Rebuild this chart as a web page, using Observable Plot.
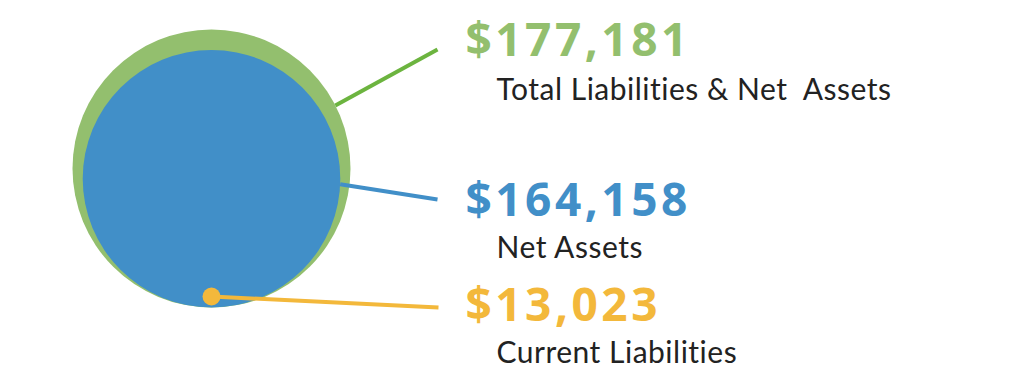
<!DOCTYPE html>
<html>
<head>
<meta charset="utf-8">
<script src="https://cdn.jsdelivr.net/npm/d3@7"></script>
<script src="https://cdn.jsdelivr.net/npm/@observablehq/plot@0.6"></script>
<style>
  html, body { margin: 0; padding: 0; background: #fff; }
  #chart svg { display: block; }
</style>
</head>
<body>
<div id="chart"></div>
<script>
// ---- data ----
const categories = ["Total Liabilities & Net  Assets", "Net Assets", "Current Liabilities"];
const values = [177181, 164158, 13023];

// ---- palette / layout (kept apart from the data) ----
const fillColors = ["#93bf6e", "#418fc8", "#f3b83b"];
const lineColors = ["#6cb43f", "#418fc8", "#f3b83b"];
const W = 1013, H = 376;
const cx = 211, baseY = 307, rMax = 139;           // circles sit on a common bottom
const valueTop = [23, 183, 288];                     // cap-top of the value texts
const labelTop = [78, 236, 341];                     // cap-top of the category texts
const valueX = 465, labelX = 496, leaderEndX = 437;
const leaderAngles = [-27, 2.5];                     // degrees, where the leader leaves the circle
const leaderEndY = [49, 199, 307];
const markerR = 9;

const rScale = d3.scaleLinear().domain([0, d3.max(values)]).range([0, rMax]);

const rows = categories.map((c, i) => ({
  category: c,
  value: values[i],
  label: d3.format("$,")(values[i]),
  i
}));

// the two big circles (total and net assets), bottom-aligned
const circles = rows.slice(0, 2).map(d => ({...d, x: cx, y: baseY - rScale(d.value)}));
// the small marker for current liabilities, placed just inside the shared bottom
const marker = [{...rows[2], x: cx, y: baseY - 11}];

const leaders = [
  ...circles.map((d, k) => {
    const a = leaderAngles[k] * Math.PI / 180, r = rScale(d.value);
    return {...d, x1: d.x + r * Math.cos(a), y1: d.y + r * Math.sin(a), x2: leaderEndX, y2: leaderEndY[d.i]};
  }),
  ...marker.map(d => ({...d, x1: d.x, y1: d.y, x2: leaderEndX + 1, y2: leaderEndY[d.i]}))
];

const plot = Plot.plot({
  width: W,
  height: H,
  margin: 0,
  x: {domain: [0, W], range: [0, W], axis: null},
  y: {domain: [0, H], range: [0, H], axis: null},
  r: {type: "linear", domain: [0, d3.max(values)], range: [0, rMax]},
  color: {domain: categories, range: fillColors},
  marks: [
    Plot.dot(circles, {x: "x", y: "y", r: "value", fill: "category", stroke: "none"}),
    Plot.link(leaders, {x1: "x1", y1: "y1", x2: "x2", y2: "y2",
      stroke: d => lineColors[d.i], strokeWidth: 4}),
    Plot.dot(marker, {x: "x", y: "y", r: markerR, fill: "category", stroke: "none"}),
    Plot.text(rows, {x: valueX, y: d => valueTop[d.i], text: "label", fill: "category",
      textAnchor: "start", lineAnchor: "top", fontSize: 46, fontWeight: 700,
      fontFamily: "'Open Sans', sans-serif"}),
    Plot.text(rows, {x: labelX, y: d => labelTop[d.i], text: "category", fill: "#222",
      textAnchor: "start", lineAnchor: "top", fontSize: 30, fontWeight: 400,
      fontFamily: "Lato, sans-serif"})
  ]
});
document.getElementById("chart").appendChild(plot);
// value figures are set with open tracking in the original
const textGroups = plot.querySelectorAll("g[aria-label='text']");
textGroups[0].setAttribute("letter-spacing", "3.5");
textGroups[1].setAttribute("letter-spacing", "0.5");
textGroups[1].setAttribute("style", "white-space: pre; font-variant-ligatures: none");
</script>
</body>
</html>
